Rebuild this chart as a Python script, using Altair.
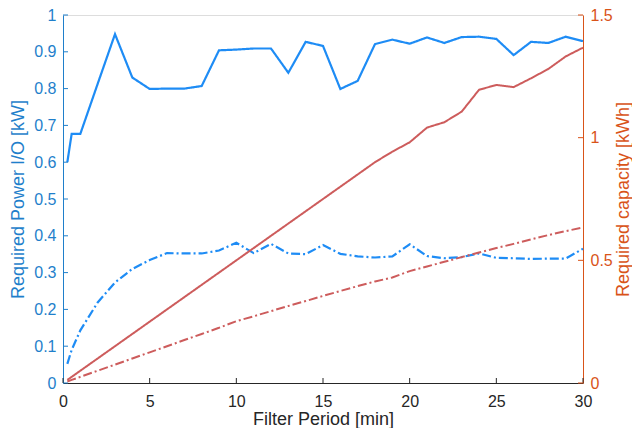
import altair as alt
import pandas as pd

# ---- data ----
period = [0.25, 0.5, 1, 2, 3, 4, 5, 6, 7, 8, 9, 10, 11, 12, 13, 14, 15,
          16, 17, 18, 19, 20, 21, 22, 23, 24, 25, 26, 27, 28, 29, 30]

power_peak = [0.600, 0.677, 0.677, 0.813, 0.948, 0.830, 0.799, 0.800, 0.800,
              0.807, 0.904, 0.906, 0.909, 0.909, 0.843, 0.927, 0.916, 0.799,
              0.821, 0.921, 0.933, 0.922, 0.939, 0.924, 0.940, 0.941, 0.935,
              0.891, 0.927, 0.924, 0.941, 0.929]

power_mean = [0.052, 0.090, 0.143, 0.219, 0.273, 0.310, 0.334, 0.353, 0.352,
              0.352, 0.360, 0.381, 0.353, 0.378, 0.352, 0.350, 0.375, 0.351,
              0.344, 0.341, 0.344, 0.377, 0.345, 0.339, 0.342, 0.352, 0.340,
              0.339, 0.337, 0.338, 0.338, 0.365]

cap_peak = [0.0125, 0.025, 0.05, 0.10, 0.15, 0.20, 0.25, 0.30, 0.35, 0.40,
            0.45, 0.50, 0.55, 0.60, 0.65, 0.70, 0.75, 0.80, 0.85, 0.90, 0.943,
            0.981, 1.041, 1.063, 1.106, 1.195, 1.215, 1.206, 1.242, 1.280,
            1.331, 1.367]

cap_mean = [0.006, 0.0125, 0.025, 0.05, 0.075, 0.10, 0.125, 0.15, 0.175, 0.20,
            0.225, 0.252, 0.272, 0.293, 0.314, 0.334, 0.355, 0.375, 0.395,
            0.414, 0.430, 0.456, 0.475, 0.494, 0.513, 0.532, 0.550, 0.567,
            0.585, 0.603, 0.619, 0.634]

x_ticks = [0, 5, 10, 15, 20, 25, 30]
left_ticks = [0, 0.1, 0.2, 0.3, 0.4, 0.5, 0.6, 0.7, 0.8, 0.9, 1]
right_ticks = [0, 0.5, 1, 1.5]

BLUE = "#1E8CF5"
BLUE_AX = "#1F7FCB"
RED = "#CD5C5C"
ORANGE = "#D95319"
GRAY = "#262626"
FONT = "Liberation Sans"
W, H = 520, 368
LAB = 16
TIT = 18

power_df = pd.DataFrame({
    "t": period * 2,
    "v": power_peak + power_mean,
    "s": ["peak"] * len(period) + ["mean"] * len(period),
})
cap_df = pd.DataFrame({
    "t": period * 2,
    "v": cap_peak + cap_mean,
    "s": ["peak"] * len(period) + ["mean"] * len(period),
})

dash = alt.StrokeDash("s:N", scale=alt.Scale(domain=["peak", "mean"],
                                              range=[[1, 0], [9, 3, 2, 3]]),
                      legend=None)

x_enc = alt.X("t:Q", scale=alt.Scale(domain=[0, 30], nice=False),
              axis=alt.Axis(values=x_ticks, title="Filter Period [min]",
                            format="~g",
                            ticks=False, labelPadding=10, labelFlush=False,
                            domainColor=GRAY, labelColor=GRAY, titleColor=GRAY,
                            labelFontSize=LAB, titleFontSize=TIT,
                            titleFontWeight="normal", grid=False,
                            titleY=41, titleBaseline="alphabetic"))

y_left = alt.Y("v:Q", scale=alt.Scale(domain=[0, 1], nice=False),
               axis=alt.Axis(values=left_ticks, orient="left", format="~g",
                             title="Required Power I/O [kW]", ticks=False,
                             labelPadding=7, domainColor=BLUE_AX,
                             labelColor=BLUE_AX, titleColor=BLUE_AX,
                             labelFontSize=LAB, titleFontSize=TIT,
                             titleFontWeight="normal", grid=False,
                             titleX=-45, titleY=H / 2,
                             titleBaseline="middle"))

y_right = alt.Y("v:Q", scale=alt.Scale(domain=[0, 1.5], nice=False),
                axis=alt.Axis(values=right_ticks, orient="right", format="~g",
                              title="Required capacity [kWh]", ticks=False,
                              labelPadding=7, domainColor=ORANGE,
                              labelColor=ORANGE, titleColor=ORANGE,
                              labelFontSize=LAB, titleFontSize=TIT,
                              titleFontWeight="normal", grid=False,
                              titleAngle=270, titleX=45, titleY=H / 2,
                              titleBaseline="alphabetic"))

power_lines = alt.Chart(power_df).mark_line(color=BLUE, strokeWidth=2.2).encode(
    x=x_enc, y=y_left, strokeDash=dash)

left_tick_df = pd.DataFrame({"v": left_ticks})
left_tick_marks = alt.Chart(left_tick_df).mark_rule(color=BLUE_AX, strokeWidth=1).encode(
    y=y_left, x=alt.value(0), x2=alt.value(5))

x_tick_df = pd.DataFrame({"t": x_ticks})
x_tick_marks = alt.Chart(x_tick_df).mark_rule(color=GRAY, strokeWidth=1).encode(
    x=x_enc, y=alt.value(H), y2=alt.value(H - 5))

cap_lines = alt.Chart(cap_df).mark_line(color=RED, strokeWidth=2).encode(
    x=x_enc, y=y_right, strokeDash=dash)

right_tick_df = pd.DataFrame({"v": right_ticks})
right_tick_marks = alt.Chart(right_tick_df).mark_rule(color=ORANGE, strokeWidth=1).encode(
    y=y_right, x=alt.value(W - 5), x2=alt.value(W))

left = alt.layer(power_lines, left_tick_marks, x_tick_marks)
right = alt.layer(cap_lines, right_tick_marks)

chart = alt.layer(left, right).resolve_scale(y="independent").properties(
    width=W, height=H,
    autosize=alt.AutoSizeParams(type="none"),
    padding={"left": 55, "top": 7, "right": 49, "bottom": 45},
).configure_view(stroke=None).configure_axis(
    labelFont=FONT, titleFont=FONT, domainWidth=1.2
).configure(background="white")

chart.save("out.html", embed_options={"renderer": "svg", "actions": False})
